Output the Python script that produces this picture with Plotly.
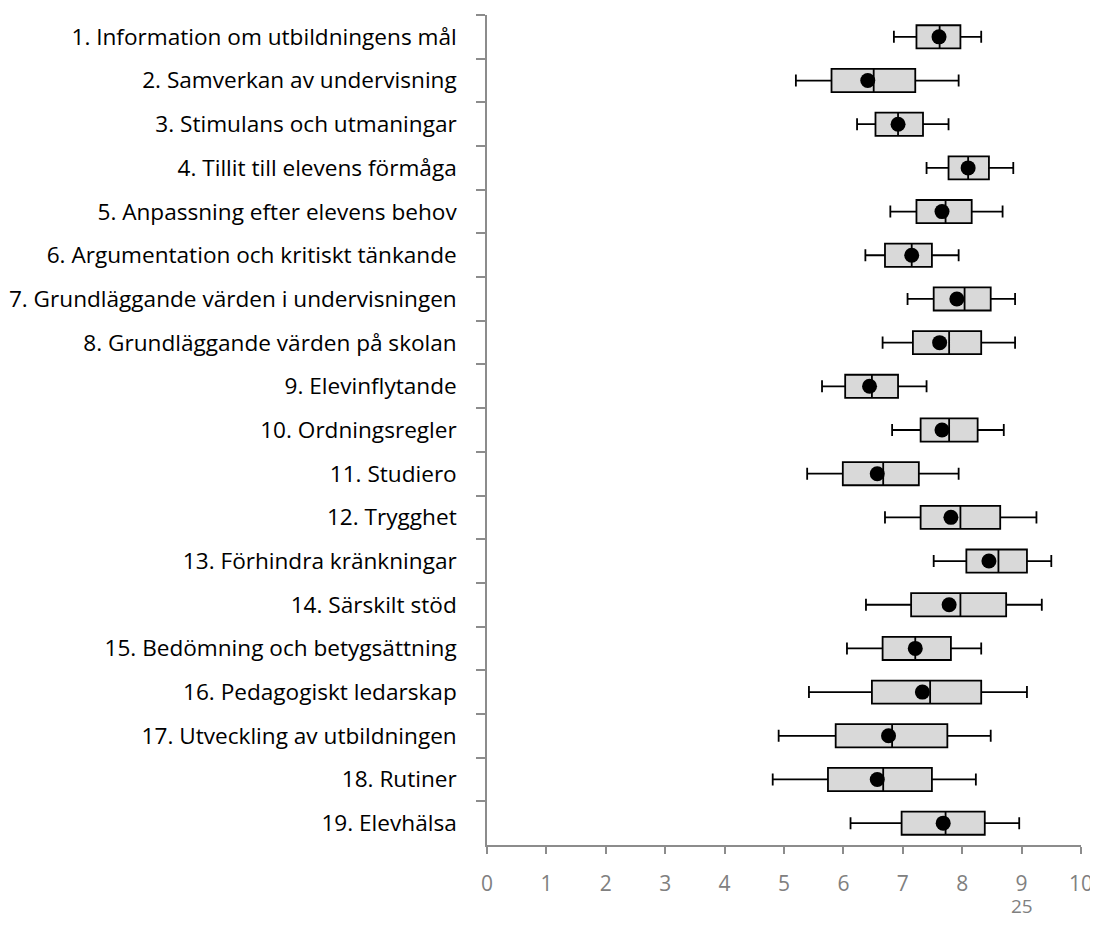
import plotly.graph_objects as go

categories = [
    "1. Information om utbildningens mål",
    "2. Samverkan av undervisning",
    "3. Stimulans och utmaningar",
    "4. Tillit till elevens förmåga",
    "5. Anpassning efter elevens behov",
    "6. Argumentation och kritiskt tänkande",
    "7. Grundläggande värden i undervisningen",
    "8. Grundläggande värden på skolan",
    "9. Elevinflytande",
    "10. Ordningsregler",
    "11. Studiero",
    "12. Trygghet",
    "13. Förhindra kränkningar",
    "14. Särskilt stöd",
    "15. Bedömning och betygsättning",
    "16. Pedagogiskt ledarskap",
    "17. Utveckling av utbildningen",
    "18. Rutiner",
    "19. Elevhälsa",
]
lower = [6.85, 5.20, 6.23, 7.40, 6.79, 6.37, 7.08, 6.66, 5.64, 6.82, 5.39, 6.70, 7.52, 6.38, 6.06, 5.42, 4.91, 4.81, 6.12]
q1 = [7.23, 5.80, 6.54, 7.77, 7.23, 6.70, 7.52, 7.17, 6.03, 7.30, 5.99, 7.30, 8.07, 7.14, 6.66, 6.48, 5.87, 5.74, 6.98]
median = [7.62, 6.51, 6.92, 8.10, 7.72, 7.15, 8.04, 7.78, 6.48, 7.78, 6.67, 7.97, 8.61, 7.97, 7.21, 7.46, 6.82, 6.67, 7.72]
q3 = [7.97, 7.21, 7.34, 8.45, 8.16, 7.49, 8.48, 8.32, 6.92, 8.26, 7.27, 8.64, 9.09, 8.74, 7.81, 8.32, 7.75, 7.49, 8.38]
upper = [8.32, 7.94, 7.77, 8.86, 8.68, 7.94, 8.89, 8.89, 7.40, 8.70, 7.94, 9.25, 9.50, 9.34, 8.32, 9.09, 8.48, 8.23, 8.96]
mean = [7.61, 6.41, 6.92, 8.10, 7.66, 7.15, 7.91, 7.62, 6.44, 7.66, 6.57, 7.81, 8.45, 7.78, 7.21, 7.33, 6.76, 6.57, 7.68]
x_ticks = list(range(0, 11))
page_number = "25"

fig = go.Figure()
fig.add_trace(go.Box(
    y=categories, q1=q1, median=median, q3=q3,
    lowerfence=lower, upperfence=upper,
    orientation="h", boxpoints=False,
    fillcolor="#d9d9d9", line=dict(color="black", width=1.8),
    width=0.53, whiskerwidth=0.52, showlegend=False, hoverinfo="skip",
))
fig.add_trace(go.Scatter(
    x=mean, y=categories, mode="markers",
    marker=dict(color="black", size=15, symbol="circle"),
    showlegend=False,
))

font_family = "'Open Sans', Lato, sans-serif"
fig.update_layout(
    width=1090, height=920,
    margin=dict(l=479, r=17, t=7, b=83),
    plot_bgcolor="white", paper_bgcolor="white",
    font=dict(family=font_family),
    xaxis=dict(
        range=[0, 10], tickvals=x_ticks, showgrid=False, zeroline=False,
        showline=True, linecolor="#8c8c8c", linewidth=1.5,
        ticks="outside", ticklen=7, tickcolor="#8c8c8c", tickwidth=1.5,
        tickfont=dict(size=21, color="#808080", family=font_family),
        ticklabelstandoff=12, automargin=False,
    ),
    yaxis=dict(
        type="category", categoryorder="array", categoryarray=categories,
        range=[18.5, -0.5], tickson="boundaries",
        showgrid=False, zeroline=False,
        showline=True, linecolor="#8c8c8c", linewidth=1.5,
        ticks="outside", ticklen=9, tickcolor="#8c8c8c", tickwidth=1.5,
        tickfont=dict(size=22.6, color="black", family=font_family),
        ticklabelstandoff=24, automargin=False,
    ),
    annotations=[dict(
        text=page_number, x=9, y=0, xref="x", yref="paper",
        yshift=-61, showarrow=False, yanchor="middle",
        font=dict(size=19, color="#808080", family=font_family),
    )],
)

fig.write_html("out.html")
